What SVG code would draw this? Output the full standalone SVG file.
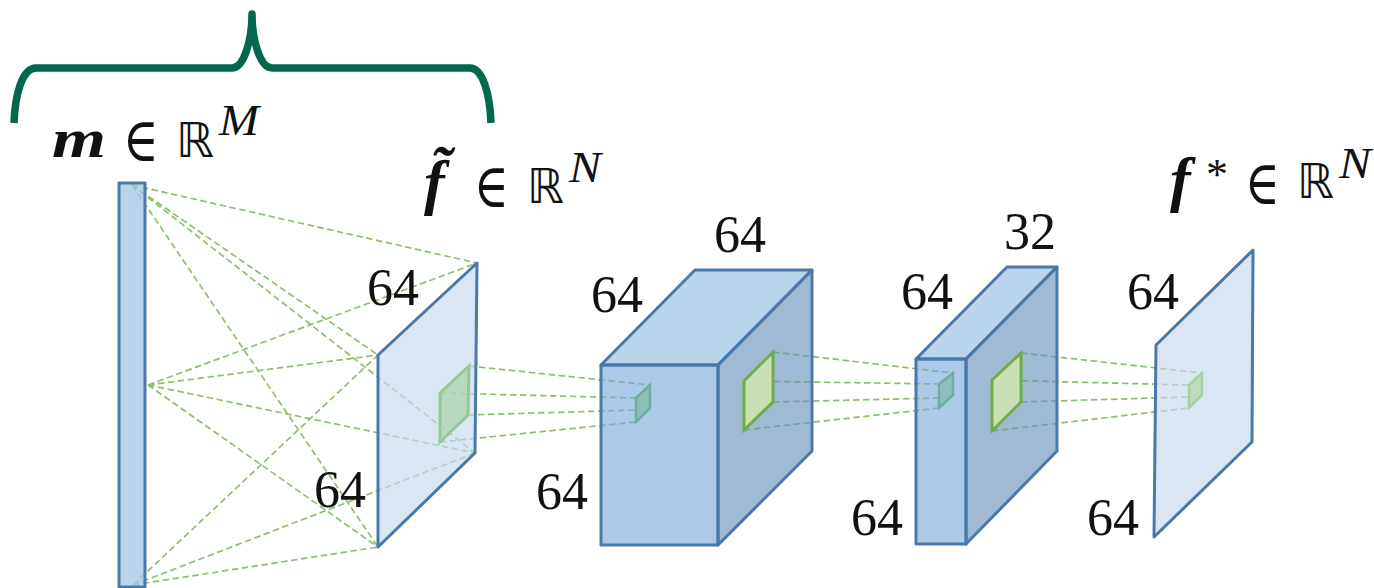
<svg xmlns="http://www.w3.org/2000/svg" width="1374" height="588" viewBox="0 0 1374 588">
<style>
text{font-family:"Liberation Serif","DejaVu Serif",serif;fill:#111}
.n{font-size:52px}
.b{font-weight:bold;font-style:italic;font-size:54px}
.f{font-weight:bold;font-style:italic;font-size:62px}
.o{font-family:"Liberation Serif","DejaVu Serif",serif;font-size:62px}
.r{font-family:"DejaVu Sans",sans-serif;font-size:48px}
.s{font-style:italic;font-size:44px}
.e{stroke:#4a79a8;stroke-width:3;stroke-linejoin:round}
.d{fill:none;stroke:#8cc070;stroke-width:1.7;stroke-dasharray:6.5 3.5}
</style>
<rect width="1374" height="588" fill="#fff"/>
<g id="connectors" class="d">
<path d="M132 185L477 263M132 185L378 355M132 185L475 453M132 185L378 547"/>
<path d="M148 385L477 263M148 385L378 355M148 385L475 453M148 385L378 547"/>
<path d="M133 585L378 355M133 585L475 453M133 585L378 547"/>
<path d="M469 366L650 385M440 393L636 398M468 415L636 410M440 442L636 422"/>
<path d="M773 352L953 373M744 381L939 384M773 402L939 398M744 430L939 408"/>
<path d="M1021 353L1202 373M992 380L1189 385M1021 402L1189 397M992 431L1189 408"/>
</g>
<g id="brace"><path d="M14 123C15 95 22 68 36 68L232 68C244 68 252 40 252 14C252 40 260 68 272 68L470 68C483 68 490 95 491 123" fill="none" stroke="#04684f" stroke-width="7.5" stroke-linejoin="round"/></g>
<g id="input-bar"><rect x="119" y="183" width="26" height="404" fill="#a3c6e6" fill-opacity=".75" class="e"/></g>
<g id="plane-f-tilde">
<polygon points="378,355 477,263 475,453 378,547" fill="#c6d9ee" fill-opacity=".65" class="e"/>
<polygon points="440,393 469,366 468,415 440,442" fill="#a5d0a0" fill-opacity=".6" stroke="#96c796" stroke-width="3"/>
</g>
<g id="cube-1">
<polygon points="601,365 695,270 812,270 718,365" fill="#bad4ec" class="e"/>
<polygon points="718,365 812,270 812,451 718,545" fill="#628cb6" fill-opacity=".6" class="e"/>
<polygon points="601,365 718,365 718,545 601,545" fill="#75a5d7" fill-opacity=".6" class="e"/>
<polygon points="636,398 650,385 650,408 636,422" fill="#8fbdb9" stroke="#6cae9c" stroke-width="2.5"/>
<polygon points="744,381 773,352 773,402 744,430" fill="#c8e0b4" stroke="#70ad47" stroke-width="3"/>
</g>
<g id="cube-2">
<polygon points="916,359 1007,267 1057,267 966,359" fill="#bad4ec" class="e"/>
<polygon points="966,359 1057,267 1057,451 966,544" fill="#628cb6" fill-opacity=".6" class="e"/>
<polygon points="916,359 966,359 966,544 916,544" fill="#75a5d7" fill-opacity=".6" class="e"/>
<polygon points="939,384 953,373 953,395 939,408" fill="#8fbdc0" stroke="#6cae9c" stroke-width="2.5"/>
<polygon points="992,380 1021,353 1021,402 992,431" fill="#c8e0b4" stroke="#70ad47" stroke-width="3"/>
</g>
<g id="plane-f-star">
<polygon points="1156,345 1253,250 1252,442 1154,537" fill="#c6d9ee" fill-opacity=".65" class="e"/>
<polygon points="1189,385 1202,373 1202,395 1189,408" fill="#bfdcc0" stroke="#a5d0a0" stroke-width="2.5"/>
</g>
<g id="labels">
<text class="b" x="52" y="157" textLength="54" lengthAdjust="spacingAndGlyphs">m</text>
<text class="o" x="123" y="161" textLength="36" lengthAdjust="spacingAndGlyphs">∈</text>
<text class="r" x="176" y="157" textLength="38" lengthAdjust="spacingAndGlyphs">ℝ</text>
<text class="s" x="219" y="135" textLength="40" lengthAdjust="spacingAndGlyphs">M</text>
<text class="f" x="424" y="203">f̃</text>
<text class="o" x="474" y="207" textLength="35" lengthAdjust="spacingAndGlyphs">∈</text>
<text class="r" x="527" y="203" textLength="37" lengthAdjust="spacingAndGlyphs">ℝ</text>
<text class="s" x="569" y="182" textLength="32" lengthAdjust="spacingAndGlyphs">N</text>
<text class="f" x="1170" y="200">f</text>
<text class="s" x="1206" y="189" style="font-style:normal">*</text>
<text class="o" x="1245" y="204" textLength="35" lengthAdjust="spacingAndGlyphs">∈</text>
<text class="r" x="1297" y="198" textLength="37" lengthAdjust="spacingAndGlyphs">ℝ</text>
<text class="s" x="1339" y="178" textLength="32" lengthAdjust="spacingAndGlyphs">N</text>
<text class="n" x="367" y="305">64</text>
<text class="n" x="314" y="507">64</text>
<text class="n" x="714" y="252">64</text>
<text class="n" x="591" y="312">64</text>
<text class="n" x="536" y="509">64</text>
<text class="n" x="901" y="309">64</text>
<text class="n" x="851" y="535">64</text>
<text class="n" x="1004" y="249">32</text>
<text class="n" x="1127" y="309">64</text>
<text class="n" x="1087" y="535">64</text>
</g>
</svg>
